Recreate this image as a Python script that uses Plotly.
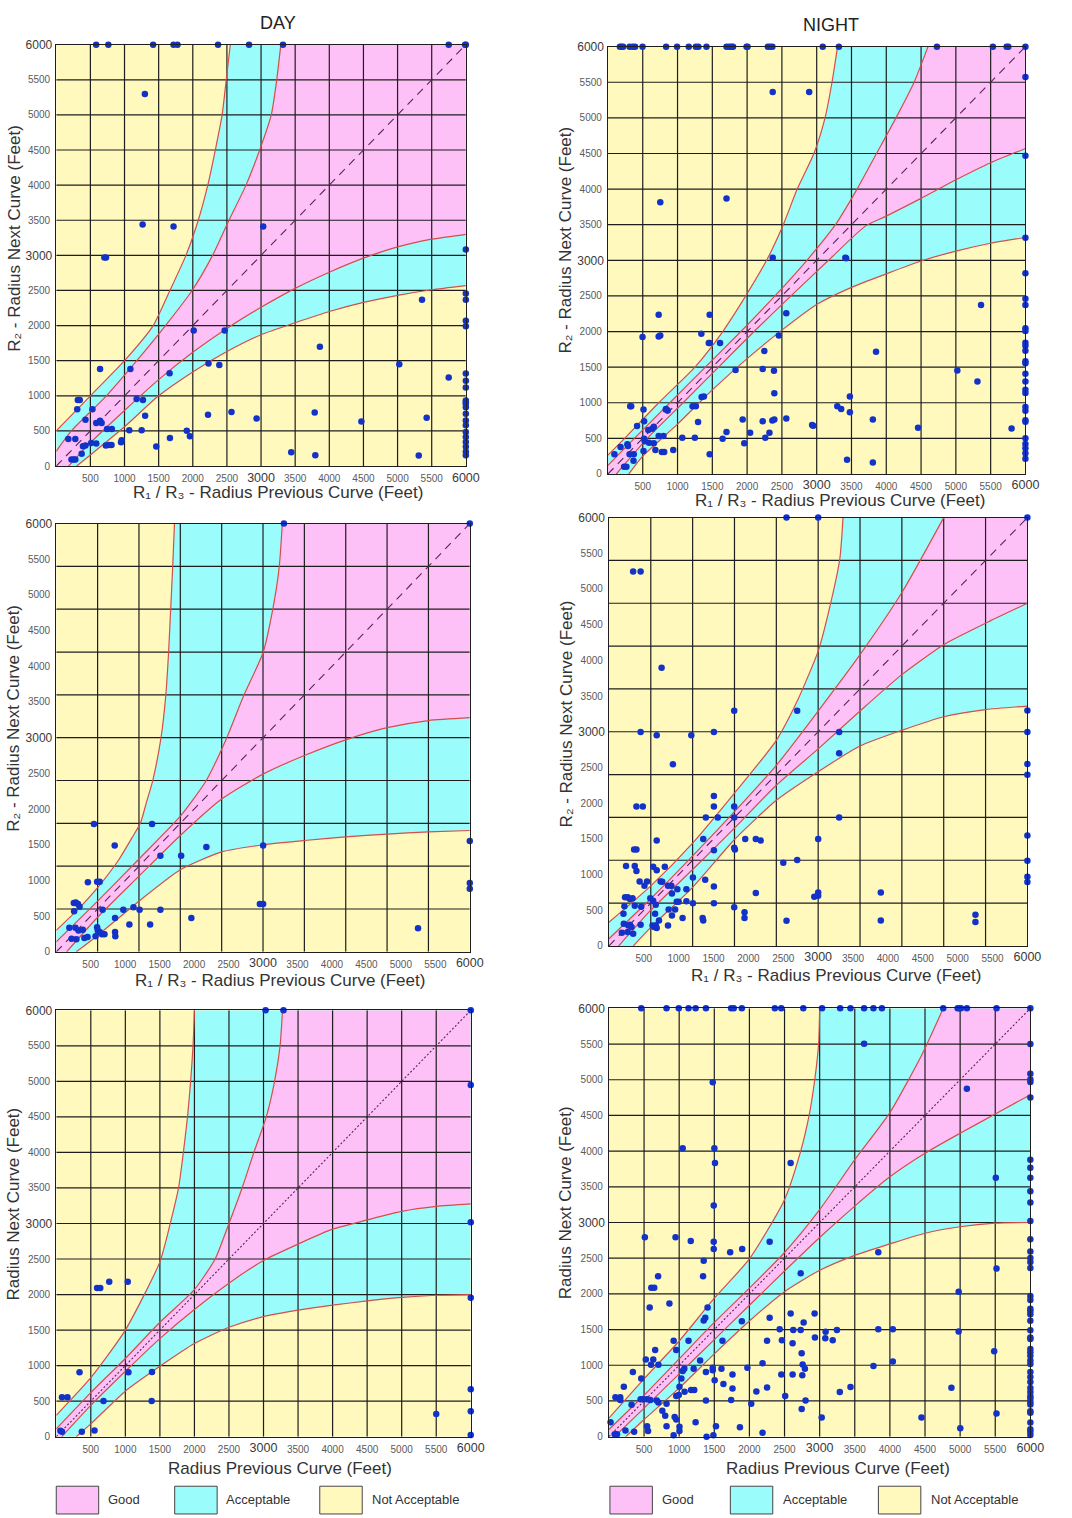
import plotly.graph_objects as go

W, H = 1072, 1518

# ---------------------------------------------------------------- axes / grid
X_TICKS = [500, 1000, 1500, 2000, 2500, 3000, 3500, 4000, 4500, 5000, 5500, 6000]
Y_TICKS = [0, 500, 1000, 1500, 2000, 2500, 3000, 3500, 4000, 4500, 5000, 5500, 6000]
BIG_TICKS = [3000, 6000]
GRID_500 = [500, 1000, 1500, 2000, 2500, 3000, 3500, 4000, 4500, 5000, 5500]
GRID_600 = [600, 1200, 1800, 2400, 3000, 3600, 4200, 4800, 5400]
AXIS_MAX = 6000

# ---------------------------------------------------------------- colours
YELLOW = "#FFF9BE"
CYAN = "#9BFCFC"
PINK = "#FEC1F7"
RED = "#D44E4A"
GRID = "#1E1E1E"
DOT = "#1232C8"
DIAG = "#5A2456"
TEXT = "#333333"
TICK = "#5A5A5A"
FONT = "Arial, Liberation Sans, DejaVu Sans, sans-serif"

# ================================================================ DAY, row 1
DAY1_UPPER_OUTER = [(0, 500), (500, 1000), (1000, 1500), (1420, 2000), (1665, 2500), (1900, 3000),
                    (2080, 3500), (2220, 4000), (2330, 4500), (2430, 5000), (2490, 5500), (2550, 6000)]
DAY1_UPPER_INNER = [(0, 210), (220, 500), (735, 1000), (1180, 1500), (1600, 2000), (1990, 2500),
                    (2290, 3000), (2530, 3500), (2780, 4000), (2980, 4500), (3150, 5000), (3230, 5500),
                    (3290, 6000)]
DAY1_LOWER_INNER = [(180, 0), (500, 330), (1000, 790), (1500, 1230), (2000, 1620), (2500, 1960),
                    (3000, 2260), (3500, 2530), (4000, 2760), (4500, 2960), (5000, 3120), (5500, 3230),
                    (6000, 3300)]
DAY1_LOWER_OUTER = [(300, 0), (1000, 560), (1500, 1000), (2000, 1340), (2500, 1630), (3000, 1870),
                    (3500, 2040), (4000, 2200), (4500, 2330), (5000, 2430), (5500, 2510), (6000, 2570)]
DAY1_POINTS = [
    (584, 6000), (763, 6000), (1419, 6000), (1718, 6000), (1776, 6000), (2370, 6000), (2824, 6000),
    (3321, 6000), (5749, 6000), (5990, 6000), (6000, 6000),
    (1298, 5299), (1265, 3440), (1718, 3412), (3031, 3412), (705, 2969), (729, 2969),
    (6000, 3082), (5358, 2367), (6000, 2456), (6000, 2367), (6000, 2070), (6000, 1990),
    (2013, 1929), (2467, 1929), (3862, 1699), (642, 1380), (1086, 1380), (1660, 1320), (2230, 1460),
    (2389, 1440), (5025, 1449), (5749, 1261), (6000, 1318), (6000, 1214), (6000, 1120),
    (316, 940), (344, 940), (307, 809), (530, 809), (1177, 954), (1270, 940), (1302, 715), (428, 658),
    (586, 611), (642, 644), (665, 611), (744, 527), (814, 527), (1070, 508), (1251, 508), (2223, 729),
    (2567, 771), (2935, 677), (3786, 762), (1912, 503), (1958, 423), (1665, 400), (1465, 277),
    (177, 386), (279, 386), (372, 174), (391, 282), (428, 291), (512, 329), (586, 320), (726, 291),
    (772, 301), (809, 301), (949, 338), (958, 367), (223, 94), (256, 94), (279, 94), (3442, 197),
    (3795, 155), (4470, 635), (5426, 687), (5310, 151),
    (6000, 932), (6000, 908), (6000, 885), (6000, 838), (6000, 744), (6000, 649), (6000, 579),
    (6000, 485), (6000, 414), (6000, 343), (6000, 273), (6000, 202), (6000, 155),
]

# ================================================================ NIGHT, row 1
NIGHT1_UPPER_OUTER = [(0, 265), (240, 500), (730, 1000), (1250, 1500), (1650, 2000), (1980, 2500),
                      (2280, 3000), (2520, 3500), (2720, 4000), (2960, 4500), (3120, 5000), (3220, 5500),
                      (3300, 6000)]
NIGHT1_UPPER_INNER = [(0, 120), (380, 500), (890, 1000), (1400, 1500), (1910, 2000), (2400, 2500),
                      (2860, 3000), (3270, 3500), (3580, 4000), (3860, 4500), (4140, 5000), (4400, 5500),
                      (4600, 6000)]
NIGHT1_LOWER_INNER = [(120, 0), (566, 500), (1080, 1000), (1590, 1500), (2100, 2000), (2630, 2500),
                      (3170, 3000), (3700, 3480), (4000, 3620), (4500, 3870), (5000, 4130), (5500, 4370),
                      (6000, 4570)]
NIGHT1_LOWER_OUTER = [(300, 0), (500, 250), (1000, 700), (1500, 1180), (2000, 1620), (2500, 2020),
                      (3000, 2380), (3500, 2620), (4000, 2810), (4500, 2990), (5000, 3130), (5500, 3240),
                      (6000, 3320)]
NIGHT1_POINTS = [
    (172, 6000), (195, 6000), (218, 6000), (311, 6000), (357, 6000), (390, 6000), (497, 6000),
    (836, 6000), (993, 6000), (1161, 6000), (1263, 6000), (1300, 6000), (1416, 6000), (1704, 6000),
    (1741, 6000), (1773, 6000), (1797, 6000), (1992, 6000), (2006, 6000), (2298, 6000), (2331, 6000),
    (2363, 6000), (3087, 6000), (3319, 6000), (4728, 6000), (5532, 6000), (5730, 6000), (5754, 6000),
    (6000, 6000),
    (2368, 5362), (2892, 5362), (752, 3814), (1704, 3869), (2368, 3035), (3412, 3035), (729, 2234),
    (1462, 2234), (2563, 2257), (497, 1923), (729, 1932), (752, 1946), (1342, 1969), (1449, 1840),
    (1462, 1840), (1611, 1840), (2456, 1946), (3853, 1715), (2247, 1728), (1834, 1460), (2224, 1474),
    (2386, 1450), (2391, 1135), (1346, 1080), (1379, 1089), (320, 950), (334, 950), (511, 904),
    (831, 904), (859, 890), (1216, 950), (1263, 950), (3296, 950), (3352, 913), (3477, 1089),
    (3477, 867), (3807, 765), (4457, 649), (520, 741), (418, 672), (580, 616), (636, 635), (659, 663),
    (729, 533), (798, 533), (520, 496), (529, 459), (1295, 728), (1068, 510), (1249, 510), (1648, 496),
    (1704, 589), (1936, 765), (2043, 579), (1959, 431), (2224, 741), (2363, 751), (2391, 765),
    (2261, 510), (2321, 579), (2563, 778), (2934, 686), (682, 338), (775, 310), (808, 310), (938, 338),
    (511, 324), (371, 278), (311, 278), (93, 278), (181, 380), (288, 394), (279, 417), (367, 185),
    (232, 102), (265, 102), (1462, 278), (3436, 199), (3807, 162), (590, 440), (659, 431), (836, 913),
    (5021, 1452), (5310, 1299), (5362, 2371), (5801, 640), (3423, 3030), (2950, 677),
    (6000, 5573), (6000, 4469), (6000, 3318), (6000, 2817), (6000, 2459), (6000, 2371), (6000, 2046),
    (6000, 2009), (6000, 1842), (6000, 1800), (6000, 1731), (6000, 1582), (6000, 1555), (6000, 1406),
    (6000, 1299), (6000, 1183), (6000, 1137), (6000, 942), (6000, 886), (6000, 756), (6000, 733),
    (6000, 501), (6000, 422), (6000, 362), (6000, 292), (6000, 213),
]

# ================================================================ DAY, row 2
DAY2_UPPER_OUTER = [(0, 300), (300, 580), (600, 900), (900, 1280), (1100, 1600), (1220, 1800),
                    (1310, 2100), (1400, 2400), (1520, 3000), (1590, 3600), (1630, 4200), (1660, 4800),
                    (1690, 5400), (1715, 6000)]
DAY2_UPPER_INNER = [(0, 140), (600, 710), (1200, 1300), (1800, 1900), (2170, 2390), (2470, 2990),
                    (2720, 3590), (3000, 4190), (3140, 4790), (3235, 5390), (3280, 6000)]
DAY2_LOWER_INNER = [(150, 0), (600, 485), (1200, 1060), (1800, 1630), (2400, 2140), (3000, 2490),
                    (3600, 2750), (4200, 2970), (4800, 3140), (5400, 3240), (6000, 3280)]
DAY2_LOWER_OUTER = [(290, 0), (600, 230), (1200, 710), (1800, 1150), (2400, 1400), (3000, 1500),
                    (3600, 1560), (4200, 1610), (4800, 1650), (5400, 1680), (6000, 1700)]
DAY2_POINTS = [
    (3303, 6000), (6000, 6000), (6000, 1551), (6000, 963), (6000, 884), (5249, 329), (2954, 671),
    (3002, 671), (3002, 1491),
    (547, 1790), (1390, 1790), (848, 1490), (2178, 1467), (1511, 1347), (1812, 1347), (459, 974),
    (593, 983), (630, 983), (255, 683), (283, 692), (315, 669), (338, 632), (259, 568), (672, 591),
    (973, 591), (1121, 623), (1209, 591), (1511, 591), (853, 475), (1960, 475), (1061, 383),
    (1362, 383), (190, 337), (278, 337), (324, 300), (385, 309), (222, 185), (292, 175), (408, 194),
    (454, 208), (593, 346), (602, 300), (630, 277), (663, 245), (700, 245), (570, 217), (853, 277),
    (857, 217),
]

# ================================================================ NIGHT, row 2
NIGHT2_UPPER_OUTER = [(0, 330), (600, 840), (1200, 1440), (1800, 2140), (2400, 2880), (2700, 3430),
                      (3000, 4130), (3150, 4680), (3310, 5420), (3356, 6000)]
NIGHT2_UPPER_INNER = [(0, 100), (600, 660), (1200, 1260), (1800, 1880), (2400, 2530), (3000, 3290),
                      (3600, 4080), (4200, 4950), (4800, 6000)]
NIGHT2_LOWER_INNER = [(140, 0), (600, 500), (1200, 1070), (1800, 1650), (2400, 2250), (3000, 2760),
                      (3600, 3290), (4200, 3800), (4800, 4220), (5400, 4520), (6000, 4800)]
NIGHT2_LOWER_OUTER = [(350, 0), (600, 260), (1200, 820), (1800, 1490), (2400, 2040), (3000, 2440),
                      (3600, 2800), (4200, 3020), (4800, 3210), (5400, 3310), (6000, 3360)]
NIGHT2_POINTS = [
    (2546, 6000), (3000, 6000), (6000, 6000), (347, 5245), (454, 5245), (755, 3895), (1796, 3293),
    (2699, 3293), (454, 2997), (685, 2951), (1181, 2951), (1505, 2997), (917, 2544), (3301, 2997),
    (3301, 2697), (1505, 2100), (394, 1952), (486, 1952), (1505, 1952), (1796, 1952), (1389, 1799),
    (1560, 1799), (1796, 1799), (3301, 1799), (685, 1475), (1352, 1499), (1505, 1341), (1796, 1374),
    (1806, 1351), (1954, 1499), (2106, 1499), (2176, 1475), (3000, 1499), (361, 1351), (394, 1351),
    (2500, 1166), (2699, 1203), (245, 1119), (370, 1119), (394, 1050), (634, 1110), (685, 1059),
    (801, 1110), (440, 902), (546, 902), (509, 842), (741, 902), (764, 897), (847, 842), (894, 842),
    (903, 735), (981, 795), (1204, 957), (1380, 925), (1505, 833), (1111, 795), (2106, 740),
    (231, 680), (269, 680), (301, 657), (338, 666), (222, 555), (370, 564), (463, 550), (593, 666),
    (634, 634), (671, 578), (972, 620), (1000, 620), (1111, 624), (1204, 597), (1505, 597), (856, 509),
    (949, 509), (903, 426), (662, 449), (1796, 541), (1944, 472), (1944, 389), (1056, 389), (1343, 389),
    (1352, 356), (2546, 352), (2944, 689), (3000, 703), (3000, 749), (3898, 749), (3898, 356),
    (208, 449), (213, 310), (185, 185), (269, 194), (278, 287), (301, 296), (324, 264), (347, 171),
    (454, 296), (625, 287), (648, 264), (671, 287), (685, 250), (718, 356), (847, 287),
    (6000, 3299), (6000, 2998), (6000, 2549), (6000, 2396), (6000, 1548), (6000, 1191), (6000, 968),
    (6000, 894), (5255, 436), (5255, 334),
]

# ================================================================ DAY, row 3
DAY3_UPPER_OUTER = [(0, 300), (500, 830), (1000, 1500), (1500, 2460), (1650, 3000), (1770, 3500),
                    (1840, 4000), (1900, 4500), (1945, 5000), (1980, 5500), (2000, 6000)]
DAY3_UPPER_INNER = [(0, 110), (500, 620), (1000, 1100), (1500, 1610), (2000, 2070), (2300, 2500),
                    (2500, 3000), (2690, 3500), (2860, 4000), (3040, 4500), (3160, 5000), (3240, 5500),
                    (3275, 6000)]
DAY3_LOWER_INNER = [(80, 0), (500, 440), (1000, 920), (1500, 1380), (2000, 1790), (2500, 2160),
                    (3000, 2480), (3500, 2710), (4000, 2920), (4500, 3050), (5000, 3170), (5500, 3240),
                    (6000, 3275)]
DAY3_LOWER_OUTER = [(290, 0), (500, 180), (1000, 640), (1500, 990), (2000, 1310), (2500, 1540),
                    (3000, 1690), (3500, 1780), (4000, 1850), (4500, 1910), (5000, 1960), (5500, 1990),
                    (6000, 2000)]
DAY3_POINTS = [
    (3030, 6000), (3289, 6000), (6000, 6000), (591, 2092), (637, 2092), (767, 2179), (1035, 2179),
    (337, 906), (1044, 906), (1386, 910), (83, 556), (162, 556), (684, 501), (1381, 501), (60, 83),
    (83, 69), (370, 69), (554, 87), (6000, 4949), (6000, 3019), (6000, 1954), (6000, 667),
    (6000, 356), (6000, 23), (5500, 319),
]

# ================================================================ NIGHT, row 3
NIGHT3_UPPER_OUTER = [(0, 260), (500, 810), (1000, 1340), (1500, 1940), (2000, 2490), (2500, 3320),
                      (2730, 4000), (2850, 4500), (2930, 5000), (2985, 5500), (3000, 6000)]
NIGHT3_UPPER_INNER = [(0, 100), (500, 580), (1000, 1090), (1500, 1600), (2000, 2080), (2500, 2580),
                      (3000, 3180), (3500, 3880), (4000, 4540), (4450, 5340), (4760, 6000)]
NIGHT3_LOWER_INNER = [(80, 0), (500, 400), (1000, 880), (1500, 1360), (2000, 1840), (2500, 2320),
                      (3000, 2790), (3500, 3230), (4000, 3640), (4500, 3970), (5000, 4250), (5500, 4520),
                      (6000, 4790)]
NIGHT3_LOWER_OUTER = [(240, 0), (500, 240), (1000, 680), (1500, 1160), (2000, 1620), (2500, 2030),
                      (3000, 2330), (3500, 2540), (4000, 2700), (4500, 2850), (5000, 2940), (5500, 2990),
                      (6000, 3000)]
NIGHT3_POINTS = [
    (460, 6000), (820, 6000), (994, 6000), (1133, 6000), (1234, 6000), (1381, 6000), (1740, 6000),
    (1777, 6000), (1892, 6000), (2362, 6000), (2454, 6000), (2767, 6000), (3034, 6000), (3292, 6000),
    (3439, 6000), (3633, 6000), (3766, 6000), (3886, 6000), (4759, 6000), (4965, 6000), (4988, 6000),
    (5012, 6000), (5096, 6000), (5518, 6000), (6000, 6000),
    (3633, 5503), (1478, 4966), (1050, 4041), (1501, 4041), (1510, 3834), (2587, 3834), (1492, 3237),
    (511, 2795), (948, 2795), (1165, 2740), (1492, 2731), (1492, 2630), (1726, 2584), (1897, 2630),
    (2288, 2731), (3835, 2584), (1349, 2464), (700, 2248), (1340, 2248), (2730, 2290), (603, 2087),
    (645, 2087), (861, 1867), (580, 1811), (1404, 1811), (1372, 1664), (1349, 1628), (1892, 1618),
    (2288, 1664), (2587, 1724), (2928, 1724), (2431, 1503), (2624, 1494), (2730, 1494), (2772, 1600),
    (3085, 1471), (3246, 1494), (3080, 1379), (3186, 1352), (2933, 1388), (3835, 1503), (4042, 1503),
    (921, 1343), (1133, 1343), (1616, 1343), (2251, 1343), (2463, 1352), (2615, 1310), (2744, 1168),
    (2758, 1011), (2790, 952), (658, 1214), (525, 1080), (631, 1080), (599, 1007), (704, 1007),
    (958, 1214), (1298, 1067), (341, 906), (460, 814), (212, 699), (1073, 952), (1050, 920),
    (1206, 952), (1381, 906), (1478, 966), (1478, 929), (1602, 952), (1505, 791), (1031, 814),
    (1004, 699), (1077, 630), (1169, 653), (1215, 653), (1759, 869), (1630, 736), (1759, 676),
    (1971, 966), (2187, 1030), (2251, 690), (2099, 634), (2454, 869), (2615, 869), (2753, 860),
    (2509, 570), (2799, 506), (2744, 386), (2026, 460), (1740, 515), (3287, 625), (3439, 694),
    (3029, 267), (3766, 989), (4042, 1053), (92, 552), (161, 552), (161, 515), (322, 446), (451, 524),
    (488, 524), (543, 524), (589, 515), (681, 506), (704, 478), (820, 460), (958, 570), (994, 584),
    (760, 363), (801, 294), (935, 276), (958, 239), (820, 147), (921, 18), (1004, 138), (1004, 78),
    (1234, 202), (1381, 506), (1390, 0), (1487, 18), (1865, 133), (2187, 55), (23, 202), (83, 32),
    (115, 32), (235, 87), (359, 69), (557, 78), (543, 147), (1524, 147),
    (5096, 4875), (4450, 269), (4876, 686), (4979, 2030), (4979, 1474), (5002, 116), (5485, 1196),
    (5508, 3628), (5518, 2354), (5518, 324),
    (6000, 5501), (6000, 5083), (6000, 5005), (6000, 4968), (6000, 4750), (6000, 3879), (6000, 3768),
    (6000, 3628), (6000, 3438), (6000, 3281), (6000, 3021), (6000, 2766), (6000, 2595), (6000, 2502),
    (6000, 2446), (6000, 2363), (6000, 1969), (6000, 1914), (6000, 1793), (6000, 1761), (6000, 1715),
    (6000, 1622), (6000, 1492), (6000, 1390), (6000, 1367), (6000, 1228), (6000, 1182), (6000, 1135),
    (6000, 1066), (6000, 1019), (6000, 904), (6000, 834), (6000, 765), (6000, 681), (6000, 625),
    (6000, 570), (6000, 533), (6000, 487), (6000, 450), (6000, 357), (6000, 334), (6000, 199),
    (6000, 102), (6000, 70), (6000, 23),
]

# ---------------------------------------------------------------- panel layout (pixels)
R13 = "R\u2081 / R\u2083 - Radius Previous Curve (Feet)"
R2 = "R\u2082 - Radius Next Curve (Feet)"
PANELS = [
    dict(box=(57, 472, 38, 463), grid=GRID_500, diag="8px,6px",
         curves=(DAY1_UPPER_OUTER, DAY1_UPPER_INNER, DAY1_LOWER_INNER, DAY1_LOWER_OUTER), pts=DAY1_POINTS,
         xt=(R13, 282, 490), yt=(R2, 14, 233)),
    dict(box=(616, 1039, 40, 471), grid=GRID_500, diag="8px,6px",
         curves=(NIGHT1_UPPER_OUTER, NIGHT1_UPPER_INNER, NIGHT1_LOWER_INNER, NIGHT1_LOWER_OUTER),
         pts=NIGHT1_POINTS, xt=(R13, 851, 498), yt=(R2, 573, 235)),
    dict(box=(57, 476, 521, 953), grid=GRID_600, diag="8px,6px",
         curves=(DAY2_UPPER_OUTER, DAY2_UPPER_INNER, DAY2_LOWER_INNER, DAY2_LOWER_OUTER), pts=DAY2_POINTS,
         xt=(R13, 284, 982), yt=(R2, 14, 717)),
    dict(box=(617, 1041, 515, 947), grid=GRID_600, diag="8px,6px",
         curves=(NIGHT2_UPPER_OUTER, NIGHT2_UPPER_INNER, NIGHT2_LOWER_INNER, NIGHT2_LOWER_OUTER),
         pts=NIGHT2_POINTS, xt=(R13, 847, 977), yt=(R2, 574, 713)),
    dict(box=(57, 477, 1012, 1442), grid=GRID_500, diag="2px,2px",
         curves=(DAY3_UPPER_OUTER, DAY3_UPPER_INNER, DAY3_LOWER_INNER, DAY3_LOWER_OUTER), pts=DAY3_POINTS,
         xt=("Radius Previous Curve (Feet)", 284, 1474), yt=("Radius Next Curve (Feet)", 14, 1207)),
    dict(box=(617, 1044, 1010, 1442), grid=GRID_500, diag="2px,2px",
         curves=(NIGHT3_UPPER_OUTER, NIGHT3_UPPER_INNER, NIGHT3_LOWER_INNER, NIGHT3_LOWER_OUTER),
         pts=NIGHT3_POINTS, xt=("Radius Previous Curve (Feet)", 849, 1474), yt=("Radius Next Curve (Feet)", 573, 1206)),
]


def xs(pairs):
    return [p[0] for p in pairs]


def ys(pairs):
    return [p[1] for p in pairs]


def band(upper, lower):
    """Closed polygon between an upper and a lower boundary inside the square."""
    px = [0] + xs(upper) + [AXIS_MAX] + xs(lower[::-1]) + [0]
    py = [0] + ys(upper) + [AXIS_MAX] + ys(lower[::-1]) + [0]
    return px, py


def axis_name(kind, n):
    return kind if n == 1 else f"{kind}{n}"


fig = go.Figure()
annotations = []
n_panels = len(PANELS)

for i, p in enumerate(PANELS, start=1):
    xa, ya = axis_name("x", i), axis_name("y", i)
    x0, x1, y0, y1 = p["box"]
    uo, ui, li, lo = p["curves"]
    common = dict(xaxis=xa, yaxis=ya, showlegend=False, hoverinfo="skip")

    cx, cy = band(uo, lo)
    fig.add_trace(go.Scatter(x=cx, y=cy, fill="toself", fillcolor=CYAN, mode="lines",
                             line=dict(width=0, color=CYAN), **common))
    px_, py_ = band(ui, li)
    fig.add_trace(go.Scatter(x=px_, y=py_, fill="toself", fillcolor=PINK, mode="lines",
                             line=dict(width=0, color=PINK), **common))

    gx, gy = [], []
    for g in p["grid"]:
        gx += [g, g, None, 0, AXIS_MAX, None]
        gy += [0, AXIS_MAX, None, g, g, None]
    fig.add_trace(go.Scatter(x=gx, y=gy, mode="lines", line=dict(color=GRID, width=1.2), **common))

    for c in (uo, ui, li, lo):
        fig.add_trace(go.Scatter(x=xs(c), y=ys(c), mode="lines",
                                 line=dict(color=RED, width=1.2, shape="spline", smoothing=0.6), **common))

    fig.add_trace(go.Scatter(x=[0, AXIS_MAX], y=[0, AXIS_MAX], mode="lines",
                             line=dict(color=DIAG, width=1.1, dash=p["diag"]), **common))

    fig.add_trace(go.Scatter(x=xs(p["pts"]), y=ys(p["pts"]), mode="markers",
                             marker=dict(color=DOT, size=6.5), cliponaxis=False, **common))

    base = dict(range=[0, AXIS_MAX], showgrid=False, zeroline=False, ticks="", tickmode="array")
    small_x = [v for v in X_TICKS if v not in BIG_TICKS]
    small_y = [v for v in Y_TICKS if v not in BIG_TICKS]
    fig.layout[axis_name("xaxis", i)] = dict(
        domain=[x0 / W, x1 / W], anchor=ya, tickvals=small_x, ticklabelstandoff=3,
        tickfont=dict(size=10, color=TICK, family=FONT),
        showline=True, mirror=True, linecolor=GRID, linewidth=1.2, **base)
    fig.layout[axis_name("yaxis", i)] = dict(
        domain=[1 - y1 / H, 1 - y0 / H], anchor=xa, tickvals=small_y, ticklabelstandoff=3,
        tickfont=dict(size=10, color=TICK, family=FONT),
        showline=True, mirror=True, linecolor=GRID, linewidth=1.2, **base)

    # overlaid axes carrying the emphasised 3000 / 6000 labels
    j = n_panels + i
    xo, yo = axis_name("x", j), axis_name("y", j)
    fig.layout[axis_name("xaxis", j)] = dict(
        overlaying=xa, anchor=yo, side="bottom", tickvals=BIG_TICKS, ticklabelstandoff=2,
        tickfont=dict(size=12.5, color="#3A3A3A", family=FONT), showline=False, **base)
    fig.layout[axis_name("yaxis", j)] = dict(
        overlaying=ya, anchor=xo, side="left", tickvals=BIG_TICKS, ticklabelstandoff=3,
        tickfont=dict(size=12, color="#3A3A3A", family=FONT), showline=False, **base)
    fig.add_trace(go.Scatter(x=[None], y=[None], xaxis=xo, yaxis=yo, showlegend=False,
                             hoverinfo="skip", mode="markers"))

    t, tx, ty = p["xt"]
    annotations.append(dict(text=t, x=tx / W, y=1 - ty / H, xref="paper", yref="paper", showarrow=False,
                            xanchor="center", yanchor="middle", font=dict(size=17, color=TEXT, family=FONT)))
    t, tx, ty = p["yt"]
    annotations.append(dict(text=t, x=tx / W, y=1 - ty / H, xref="paper", yref="paper", showarrow=False,
                            xanchor="center", yanchor="middle", textangle=-90,
                            font=dict(size=17, color=TEXT, family=FONT)))

# column headings
for label, cx_, cy_ in (("DAY", 282, 16), ("NIGHT", 842, 18)):
    annotations.append(dict(text=label, x=cx_ / W, y=1 - cy_ / H, xref="paper", yref="paper",
                            showarrow=False, xanchor="center", yanchor="middle",
                            font=dict(size=18, color="#222222", family=FONT)))

# key: coloured swatches with their meaning
LEGEND_LABELS = ["Good", "Acceptable", "Not Acceptable"]
LEGEND_COLORS = [PINK, CYAN, YELLOW]
shapes = []
for swatch_x, text_x in (((57, 177, 324), (107, 227, 375)), ((618, 740, 890), (669, 791, 941))):
    for lab, col, sx, tx in zip(LEGEND_LABELS, LEGEND_COLORS, swatch_x, text_x):
        shapes.append(dict(type="rect", xref="paper", yref="paper", x0=sx / W, x1=(sx + 43) / W,
                           y0=1 - 1520 / H, y1=1 - 1492 / H, fillcolor=col,
                           line=dict(color="#444444", width=1)))
        annotations.append(dict(text=lab, x=tx / W, y=1 - 1505 / H, xref="paper", yref="paper",
                                showarrow=False, xanchor="left", yanchor="middle",
                                font=dict(size=13, color=TEXT, family=FONT)))

fig.update_layout(width=W, height=H, margin=dict(l=0, r=0, t=0, b=0), autosize=False,
                  paper_bgcolor="white", plot_bgcolor=YELLOW, annotations=annotations, shapes=shapes,
                  font=dict(family=FONT))

fig.write_html("out.html")
